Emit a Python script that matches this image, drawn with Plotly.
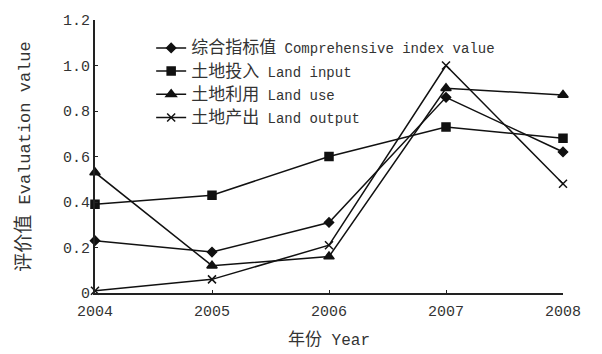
import plotly.graph_objects as go

years = [2004, 2005, 2006, 2007, 2008]
comprehensive = [0.23, 0.18, 0.31, 0.86, 0.62]
land_input = [0.39, 0.43, 0.60, 0.73, 0.68]
land_use = [0.53, 0.12, 0.16, 0.90, 0.87]
land_output = [0.01, 0.06, 0.21, 1.00, 0.48]

y_ticks = [0, 0.2, 0.4, 0.6, 0.8, 1.0, 1.2]
y_tick_text = ["0", "0.2", "0.4", "0.6", "0.8", "1.0", "1.2"]

LATIN = "Liberation Mono, Liberation Serif, serif"
CJK = "Noto Sans CJK SC"


def label(cn, en, cn_size=17):
    return f'<span style="font-family:{CJK};font-size:{cn_size}px">{cn}</span> {en}'


series = [
    (label("综合指标值", "Comprehensive index value"), comprehensive, "diamond", 7),
    (label("土地投入", "Land input"), land_input, "square", 8),
    (label("土地利用", "Land use"), land_use, "triangle-up", 9),
    (label("土地产出", "Land output"), land_output, "x-thin", 8),
]

fig = go.Figure()
for i, (name, vals, sym, size) in enumerate(series):
    fig.add_trace(go.Scatter(
        x=years, y=vals, name=name, mode="lines+markers",
        line=dict(color="#111", width=1.5),
        marker=dict(symbol=sym, size=size, color="#111",
                    line=dict(color="#111", width=1.5)),
        cliponaxis=False, legendgroup=f"g{i}",
    ))

fig.update_layout(
    width=602, height=354,
    margin=dict(l=95, r=39, t=20, b=61),
    paper_bgcolor="white", plot_bgcolor="white",
    font=dict(family=LATIN, size=14, color="#333"),
    showlegend=True,
    legend=dict(
        x=0.12, y=0.955, xanchor="left", yanchor="top",
        bgcolor="rgba(0,0,0,0)", font=dict(size=14, family=LATIN),
        traceorder="grouped", tracegroupgap=2, itemwidth=30,
    ),
    xaxis=dict(
        range=[2004, 2008], tickvals=years, ticktext=[str(y) for y in years],
        showgrid=False, zeroline=False, showline=True, linecolor="#222",
        linewidth=2, ticks="inside", ticklen=3, tickcolor="#222",
        tickfont=dict(size=15), ticklabelstandoff=3, automargin=False,
        title=dict(text=label("年份", "Year", 17), font=dict(size=16), standoff=14),
    ),
    yaxis=dict(
        range=[0, 1.2], tickvals=y_ticks, ticktext=y_tick_text,
        showgrid=False, zeroline=False, showline=True, linecolor="#222",
        linewidth=2, ticks="inside", ticklen=3, tickcolor="#222",
        tickfont=dict(size=15), automargin=False,
        title=dict(text=label("评价值", "Evaluation value", 19), font=dict(size=17), standoff=28),
    ),
)

fig.write_html("out.html")
